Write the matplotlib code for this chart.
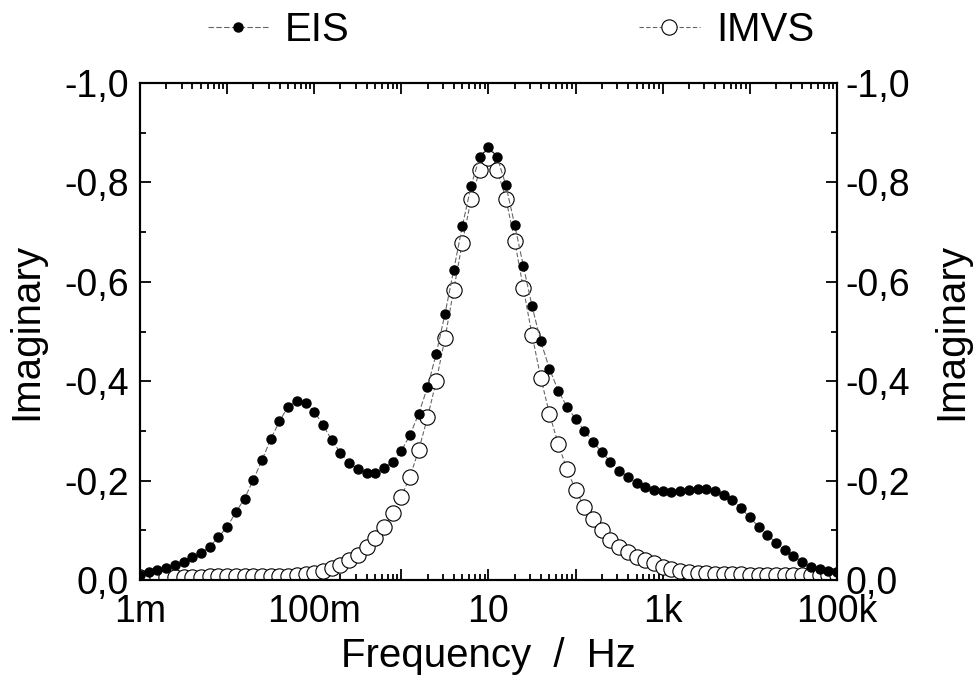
import numpy as np
import matplotlib
matplotlib.use("Agg")
import matplotlib.pyplot as plt
from matplotlib.ticker import FixedLocator, NullFormatter

plt.rcParams['font.family'] = ['Liberation Sans', 'DejaVu Sans']

# frequencies: 10 points per decade, 1 mHz .. 100 kHz
log_f = np.arange(-30, 51) / 10.0
freq = 10.0 ** log_f

eis_imag = [0.010, 0.017, 0.020, 0.025, 0.030, 0.037, 0.046, 0.054, 0.067, 0.086,
            0.107, 0.136, 0.164, 0.201, 0.241, 0.283, 0.319, 0.349, 0.360, 0.357,
            0.339, 0.312, 0.282, 0.256, 0.236, 0.223, 0.215, 0.216, 0.225, 0.238,
            0.260, 0.292, 0.335, 0.388, 0.455, 0.535, 0.623, 0.712, 0.793, 0.852,
            0.872, 0.851, 0.794, 0.715, 0.632, 0.551, 0.480, 0.425, 0.381, 0.349,
            0.324, 0.300, 0.278, 0.257, 0.238, 0.220, 0.208, 0.196, 0.188, 0.182,
            0.180, 0.178, 0.180, 0.182, 0.184, 0.184, 0.180, 0.172, 0.161, 0.144,
            0.126, 0.107, 0.091, 0.075, 0.060, 0.048, 0.037, 0.027, 0.022, 0.019,
            0.017]

imvs_imag = [0.007, 0.007, 0.007, 0.007, 0.007, 0.007, 0.007, 0.007, 0.008, 0.008,
             0.008, 0.008, 0.008, 0.008, 0.009, 0.009, 0.009, 0.009, 0.010, 0.012,
             0.015, 0.019, 0.024, 0.030, 0.040, 0.050, 0.066, 0.084, 0.107, 0.134,
             0.168, 0.208, 0.262, 0.327, 0.400, 0.486, 0.583, 0.679, 0.766, 0.825,
             0.849, 0.825, 0.767, 0.683, 0.587, 0.493, 0.407, 0.334, 0.274, 0.223,
             0.181, 0.147, 0.123, 0.101, 0.081, 0.067, 0.056, 0.047, 0.040, 0.034,
             0.027, 0.022, 0.019, 0.017, 0.015, 0.014, 0.013, 0.013, 0.012, 0.012,
             0.011, 0.011, 0.011, 0.010, 0.010, 0.010, 0.010, 0.010, 0.010, 0.010,
             0.010]

y_ticks = [0.0, -0.2, -0.4, -0.6, -0.8, -1.0]
y_ticklabels = ["0,0", "-0,2", "-0,4", "-0,6", "-0,8", "-1,0"]
x_label_pos = [1e-3, 1e-1, 1e1, 1e3, 1e5]
x_ticklabels = ["1m", "100m", "10", "1k", "100k"]

TICK_FS = 27
LABEL_FS = 29

fig = plt.figure(figsize=(9.76, 6.86), dpi=100)
ax = fig.add_axes([0.1434, 0.1545, 0.7142, 0.7245])

eis_y = -np.array(eis_imag)
imvs_y = -np.array(imvs_imag)

l1, = ax.plot(freq, eis_y, color='#666666', lw=0.8, ls=(0, (5, 2)), marker='o', ms=6.5,
              mfc='black', mec='black', label='EIS', zorder=3)
l2, = ax.plot(freq, imvs_y, color='#666666', lw=0.8, ls=(0, (4, 2)), marker='o', ms=11,
              mfc='white', mec='black', mew=0.8, label='IMVS', zorder=2)

ax.set_xscale('log')
ax.set_xlim(1e-3, 1e5)
ax.set_ylim(0.0, -1.0)

major_x = [10.0 ** k for k in range(-3, 6)]
minor_x = [m * 10.0 ** k for k in range(-3, 5) for m in range(2, 10)]
ax.set_xticks(major_x)
ax.set_xticklabels([x_ticklabels[x_label_pos.index(v)] if v in x_label_pos else "" for v in major_x])
ax.xaxis.set_minor_locator(FixedLocator(minor_x))
ax.xaxis.set_minor_formatter(NullFormatter())

ax.set_yticks(y_ticks)
ax.set_yticklabels(y_ticklabels)
ax.yaxis.set_minor_locator(FixedLocator(np.arange(-1.0, 0.01, 0.1)))

for sp in ax.spines.values():
    sp.set_linewidth(1.5)

ax.tick_params(which='both', direction='in', top=True, right=False, labelsize=TICK_FS, width=1.3)
ax.tick_params(which='major', length=8)
ax.tick_params(which='minor', length=4)
ax.tick_params(axis='x', which='major', pad=10)
ax.tick_params(axis='y', which='major', pad=8)

ax2 = ax.twinx()
ax2.set_ylim(0.0, -1.0)
ax2.set_yticks(y_ticks)
ax2.set_yticklabels(y_ticklabels)
ax2.yaxis.set_minor_locator(FixedLocator(np.arange(-1.0, 0.01, 0.1)))
ax2.tick_params(which='both', direction='in', labelsize=TICK_FS, width=1.3)
ax2.tick_params(which='major', length=8, pad=6)
ax2.tick_params(which='minor', length=4)
ax2.set_ylabel("Imaginary", fontsize=LABEL_FS, labelpad=16)
for sp in ax2.spines.values():
    sp.set_linewidth(1.5)

ax.set_xlabel("Frequency  /  Hz", fontsize=LABEL_FS, labelpad=5)
ax.set_ylabel("Imaginary", fontsize=LABEL_FS, labelpad=14)

fig.legend(handles=[l1, l2], loc='center', bbox_to_anchor=(0.5236, 0.956), ncol=2,
           frameon=False, fontsize=LABEL_FS, columnspacing=7.2, handlelength=1.5,
           handletextpad=0.4, borderpad=0.0)

fig.savefig("out.png", dpi=100)
